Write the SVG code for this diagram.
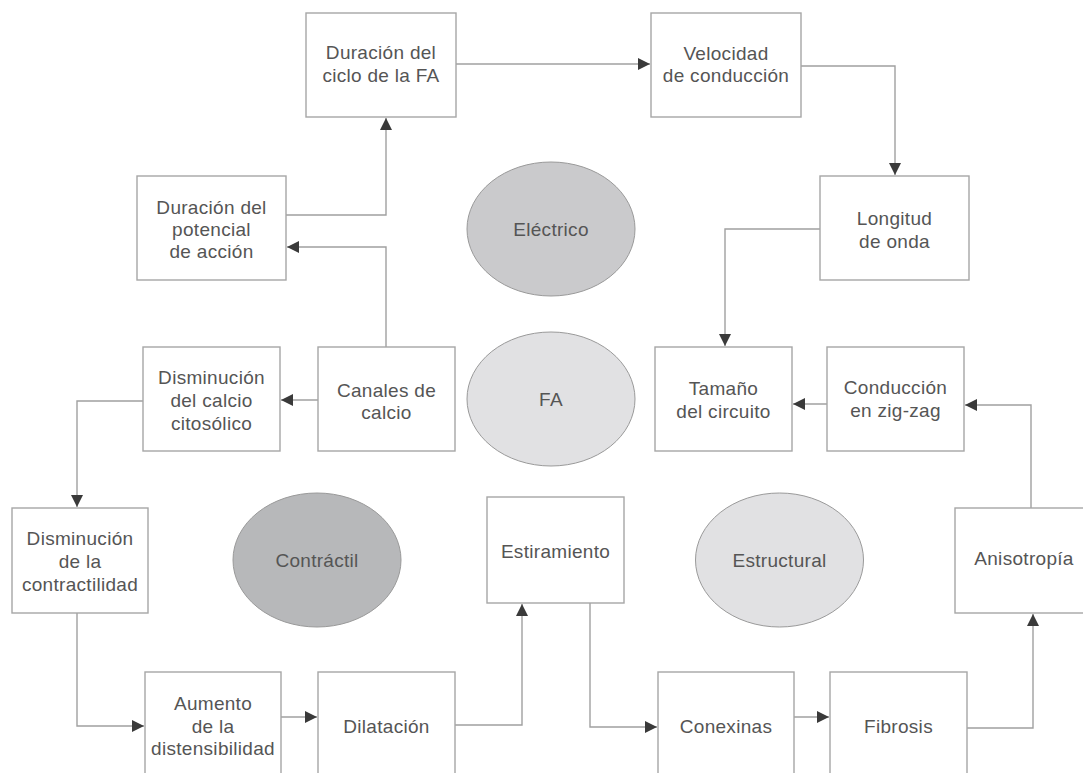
<svg xmlns="http://www.w3.org/2000/svg" width="1083" height="773" viewBox="0 0 1083 773">
<defs>
<marker id="arr" markerUnits="userSpaceOnUse" markerWidth="13" markerHeight="13" viewBox="0 0 13 13" refX="12" refY="6.5" orient="auto">
<path d="M0,0.5 L12,6.5 L0,12.5 Z" fill="#3a3a3a"/>
</marker>
<style>
.box{fill:#fff;stroke:#a6a6a6;stroke-width:1.4}
.t{font-family:"Liberation Sans",Arial,sans-serif;font-size:19px;fill:#555;text-anchor:middle;letter-spacing:0.3px}
.c{fill:none;stroke:#a0a0a0;stroke-width:1.4;marker-end:url(#arr)}
.e{stroke:#9a9a9a;stroke-width:1}
</style>
</defs>
<rect width="1083" height="773" fill="#fff"/>
<g id="connectors">
<path class="c" d="M286,215 H386 V118"/>
<path class="c" d="M456,64 H650"/>
<path class="c" d="M801,66 H895 V175"/>
<path class="c" d="M820,229 H725 V346"/>
<path class="c" d="M386,347 V247 H287"/>
<path class="c" d="M318,400 H281"/>
<path class="c" d="M143,401 H77 V507"/>
<path class="c" d="M77,613 V726 H144"/>
<path class="c" d="M281,717 H317"/>
<path class="c" d="M455,725 H522 V604"/>
<path class="c" d="M590,603 V727 H657"/>
<path class="c" d="M794,717 H829"/>
<path class="c" d="M967,728 H1033 V614"/>
<path class="c" d="M1031,508 V405 H965"/>
<path class="c" d="M827,404 H793"/>
</g>
<g id="n-electrico"><ellipse class="e" cx="551" cy="229" rx="84" ry="67" fill="#cacacc"/><text class="t" x="551" y="236">Eléctrico</text></g>
<g id="n-fa"><ellipse class="e" cx="551" cy="399" rx="84" ry="67" fill="#e1e1e3"/><text class="t" x="551" y="406">FA</text></g>
<g id="n-contractil"><ellipse class="e" cx="317" cy="560" rx="84" ry="67" fill="#b7b8ba"/><text class="t" x="317" y="567">Contráctil</text></g>
<g id="n-estructural"><ellipse class="e" cx="779.5" cy="560" rx="84" ry="67" fill="#e1e1e3"/><text class="t" x="779.5" y="567">Estructural</text></g>
<g id="n-ciclo"><rect class="box" x="306" y="13" width="150" height="104"/><text class="t" x="381" y="59">Duración del</text><text class="t" x="381" y="82">ciclo de la FA</text></g>
<g id="n-velocidad"><rect class="box" x="651" y="13" width="150" height="104"/><text class="t" x="726" y="60">Velocidad</text><text class="t" x="726" y="82">de conducción</text></g>
<g id="n-potencial"><rect class="box" x="137" y="176" width="149" height="104"/><text class="t" x="211.5" y="214">Duración del</text><text class="t" x="211.5" y="236">potencial</text><text class="t" x="211.5" y="258">de acción</text></g>
<g id="n-longitud"><rect class="box" x="820" y="176" width="149" height="104"/><text class="t" x="894.5" y="225">Longitud</text><text class="t" x="894.5" y="248">de onda</text></g>
<g id="n-calcio"><rect class="box" x="143" y="347" width="137" height="104"/><text class="t" x="211.5" y="384">Disminución</text><text class="t" x="211.5" y="407">del calcio</text><text class="t" x="211.5" y="430">citosólico</text></g>
<g id="n-canales"><rect class="box" x="318" y="347" width="137" height="104"/><text class="t" x="386.5" y="397">Canales de</text><text class="t" x="386.5" y="419">calcio</text></g>
<g id="n-tamano"><rect class="box" x="655" y="347" width="137" height="104"/><text class="t" x="723.5" y="395">Tamaño</text><text class="t" x="723.5" y="418">del circuito</text></g>
<g id="n-zigzag"><rect class="box" x="827" y="347" width="137" height="104"/><text class="t" x="895.5" y="394">Conducción</text><text class="t" x="895.5" y="417">en zig-zag</text></g>
<g id="n-contractilidad"><rect class="box" x="12" y="508" width="136" height="105"/><text class="t" x="80" y="545">Disminución</text><text class="t" x="80" y="568">de la</text><text class="t" x="80" y="591">contractilidad</text></g>
<g id="n-estiramiento"><rect class="box" x="487" y="497" width="137" height="106"/><text class="t" x="555.5" y="558">Estiramiento</text></g>
<g id="n-anisotropia"><rect class="box" x="955" y="508" width="137" height="105"/><text class="t" x="1024" y="565">Anisotropía</text></g>
<g id="n-aumento"><rect class="box" x="145" y="672" width="136" height="110"/><text class="t" x="213" y="710">Aumento</text><text class="t" x="213" y="733">de la</text><text class="t" x="213" y="755">distensibilidad</text></g>
<g id="n-dilatacion"><rect class="box" x="318" y="672" width="137" height="110"/><text class="t" x="386.5" y="733">Dilatación</text></g>
<g id="n-conexinas"><rect class="box" x="658" y="672" width="136" height="110"/><text class="t" x="726" y="733">Conexinas</text></g>
<g id="n-fibrosis"><rect class="box" x="830" y="672" width="137" height="110"/><text class="t" x="898.5" y="733">Fibrosis</text></g>
</svg>
